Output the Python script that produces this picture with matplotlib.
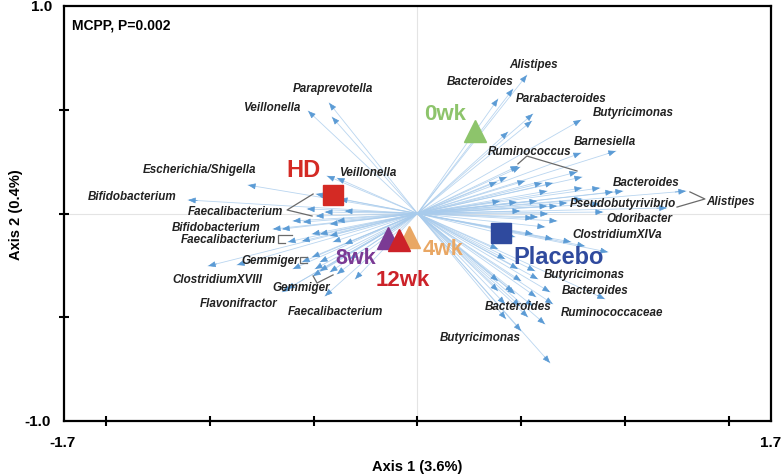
import matplotlib.pyplot as plt
import numpy as np

plt.rcParams['font.family'] = ['Liberation Sans', 'DejaVu Sans']

# taxa loadings (arrow tips)
load_x = [-0.425, -0.411, -0.526, -0.435, -0.387, -0.815, -1.103, -0.488, -0.531, -0.488,
          -0.599, -0.695, -0.550, -0.445, -0.387, -0.555, -0.507, -0.469, -0.421, -0.406,
          -0.623, -1.007, -0.868, -0.599, -0.555, -0.507, -0.469, -0.493, -0.502, -0.469,
          -0.421, -0.387, -0.651, -0.627, -0.445, -0.373, -0.349, -0.421, -0.651, -0.349,
          -0.325, -0.300,
          0.526, 0.459, 0.387, 0.555, 0.550, 0.435, 0.786, 0.954, 0.786, 0.483,
          0.493, 0.430, 0.382, 0.767, 0.791, 0.517, 0.599, 0.651, 0.623, 0.791,
          0.877, 0.940, 1.291, 0.397, 0.478, 0.575, 0.623, 0.671, 0.719, 0.791,
          0.877, 1.199, 0.892, 0.493, 0.555, 0.627, 0.671, 0.988,
          0.579, 0.613, 0.555, 0.469, 0.651, 0.738, 0.805, 0.916, 0.387, 0.421,
          0.483, 0.565, 0.579, 0.387, 0.498, 0.570, 0.637, 0.901, 0.469, 0.421,
          0.425, 0.493, 0.531, 0.555, 0.613, 0.651, 0.498, 0.637, 0.387, 0.459]
load_y = [0.533, 0.465, 0.494, 0.181, 0.171, 0.137, 0.065, 0.094, 0.022, -0.012,
          -0.036, -0.075, -0.041, 0.007, -0.036, -0.133, -0.099, -0.099, -0.108, -0.137,
          -0.137, -0.253, -0.248, -0.267, -0.234, -0.210, -0.234, -0.267, -0.301, -0.277,
          -0.282, -0.292, -0.378, -0.364, -0.398, 0.070, 0.012, -0.051, -0.075, -0.147,
          -0.219, -0.316,
          0.667, 0.600, 0.552, 0.480, 0.446, 0.393, 0.451, 0.301, 0.292, 0.229,
          0.224, 0.176, 0.152, 0.200, 0.176, 0.157, 0.147, 0.147, 0.108, 0.123,
          0.123, 0.104, 0.108, 0.060, 0.055, 0.060, 0.036, 0.036, 0.051, 0.070,
          0.046, 0.027, 0.007, 0.012, -0.022, -0.002, -0.036, 0.108,
          -0.017, -0.065, -0.099, -0.113, -0.123, -0.137, -0.157, -0.186, -0.171, -0.219,
          -0.267, -0.277, -0.316, -0.325, -0.325, -0.402, -0.378, -0.412, -0.388, -0.436,
          -0.508, -0.446, -0.499, -0.446, -0.533, -0.436, -0.566, -0.720, -0.373, -0.378]

taxa_names = ['Paraprevotella', 'Veillonella', 'Escherichia/Shigella', 'Veillonella',
              'Bifidobacterium', 'Faecalibacterium', 'Bifidobacterium', 'Faecalibacterium',
              'Gemmiger', 'ClostridiumXVIII', 'Gemmiger', 'Flavonifractor', 'Faecalibacterium',
              'Alistipes', 'Bacteroides', 'Parabacteroides', 'Butyricimonas', 'Barnesiella',
              'Ruminococcus', 'Bacteroides', 'Pseudobutyrivibrio', 'Alistipes', 'Odoribacter',
              'ClostridiumXIVa', 'Butyricimonas', 'Bacteroides', 'Bacteroides',
              'Ruminococcaceae', 'Butyricimonas']
taxa_pos = [(-0.406, 0.605), (-0.700, 0.513), (-1.046, 0.214), (-0.238, 0.200),
            (-1.373, 0.084), (-0.873, 0.012), (-0.969, -0.065), (-0.911, -0.123),
            (-0.709, -0.224), (-0.964, -0.316), (-0.560, -0.354), (-0.858, -0.431),
            (-0.392, -0.470), (0.560, 0.720), (0.300, 0.639), (0.690, 0.557),
            (1.036, 0.489), (0.901, 0.349), (0.541, 0.301), (1.099, 0.152),
            (0.988, 0.051), (1.507, 0.060), (1.065, -0.022), (0.959, -0.099),
            (0.801, -0.292), (0.853, -0.369), (0.483, -0.446), (0.935, -0.475),
            (0.300, -0.595)]

# group centroids
groups = ['HD', 'Placebo', '0wk', '8wk', '4wk', '12wk']
group_x = [-0.406, 0.400, 0.277, -0.142, -0.040, -0.089]
group_y = [0.089, -0.094, 0.400, -0.120, -0.113, -0.130]
group_marker = ['s', 's', '^', '^', '^', '^']
group_color = ['#d42a24', '#2f4a9e', '#8dc46b', '#7b3a94', '#e9a764', '#cc2229']
group_label_pos = [(-0.550, 0.210), (0.680, -0.205), (0.132, 0.480),
                   (-0.296, -0.210), (0.123, -0.171), (-0.070, -0.316)]
group_fs = [17, 17, 16, 15.5, 15.5, 16]

connectors = [
    [(-0.502, 0.094), (-0.627, 0.017), (-0.507, -0.012)],
    [(-0.603, -0.104), (-0.671, -0.104), (-0.671, -0.142), (-0.637, -0.142)],
    [(-0.531, -0.210), (-0.565, -0.210), (-0.565, -0.239), (-0.531, -0.239)],
    [(-0.502, -0.301), (-0.483, -0.335), (-0.406, -0.296)],
    [(0.483, 0.239), (0.526, 0.277), (0.767, 0.205)],
    [(1.310, 0.104), (1.382, 0.070), (1.248, 0.031)],
]

fig = plt.figure(figsize=(7.83, 4.77), dpi=100)
ax = fig.add_axes([0.0817, 0.1153, 0.903, 0.870])
ax.set_xlim(-1.7, 1.7)
ax.set_ylim(-1.0, 1.0)

ax.axhline(0, color='#e4e4e4', lw=0.8, zorder=0)
ax.axvline(0, color='#e4e4e4', lw=0.8, zorder=0)

# arrows
for lx, ly in zip(load_x, load_y):
    ax.plot([0, lx], [0, ly], color='#a8cbec', lw=0.6, alpha=0.8, zorder=1)
    ax.annotate('', xy=(lx, ly), xytext=(lx * 0.96, ly * 0.96),
                arrowprops=dict(arrowstyle='-|>,head_length=0.45,head_width=0.18',
                                color='#5b9bd5', lw=0.5, shrinkA=0, shrinkB=0),
                zorder=2)

for pts in connectors:
    pts = np.array(pts)
    ax.plot(pts[:, 0], pts[:, 1], color='#6a6a6a', lw=0.9, zorder=3)

for name, (tx, ty) in zip(taxa_names, taxa_pos):
    ax.text(tx, ty, name, fontsize=8.4, fontweight='bold', fontstyle='italic',
            color='#222222', ha='center', va='center', zorder=4)

for g, gx, gy, m, c, (lx, ly), fs in zip(groups, group_x, group_y, group_marker,
                                          group_color, group_label_pos, group_fs):
    ax.plot(gx, gy, marker=m, color=c, markersize=15 if m == 's' else 16,
            linestyle='none', zorder=5)
    ax.text(lx, ly, g, fontsize=fs, fontweight='bold', color=c,
            ha='center', va='center', zorder=6)

ax.text(0.012, 0.955, 'MCPP, P=0.002', transform=ax.transAxes, fontsize=10,
        fontweight='bold', ha='left', va='center')

for s in ax.spines.values():
    s.set_linewidth(1.6)
ax.set_xticks([-1.5, -1.0, -0.5, 0, 0.5, 1.0, 1.5])
ax.set_yticks([-0.5, 0, 0.5])
ax.set_xticklabels([])
ax.set_yticklabels([])
ax.tick_params(direction='inout', length=7, width=1.5)

ax.annotate('-1.7', xy=(-1.7, -1.0), xytext=(-1, -15), textcoords='offset points',
            ha='center', va='center', fontsize=11, fontweight='bold')
ax.annotate('1.7', xy=(1.7, -1.0), xytext=(0, -15), textcoords='offset points',
            ha='center', va='center', fontsize=11, fontweight='bold')
ax.annotate('1.0', xy=(-1.7, 1.0), xytext=(-16, 0), textcoords='offset points',
            ha='center', va='center', fontsize=11, fontweight='bold')
ax.annotate('-1.0', xy=(-1.7, -1.0), xytext=(-19, 0), textcoords='offset points',
            ha='center', va='center', fontsize=11, fontweight='bold')

fig.text(0.533, 0.022, 'Axis 1 (3.6%)', fontsize=10.5, fontweight='bold',
         ha='center', va='center')
fig.text(0.02, 0.55, 'Axis 2 (0.4%)', fontsize=10.5, fontweight='bold',
         ha='center', va='center', rotation=90)

plt.savefig('out.png', dpi=100)
